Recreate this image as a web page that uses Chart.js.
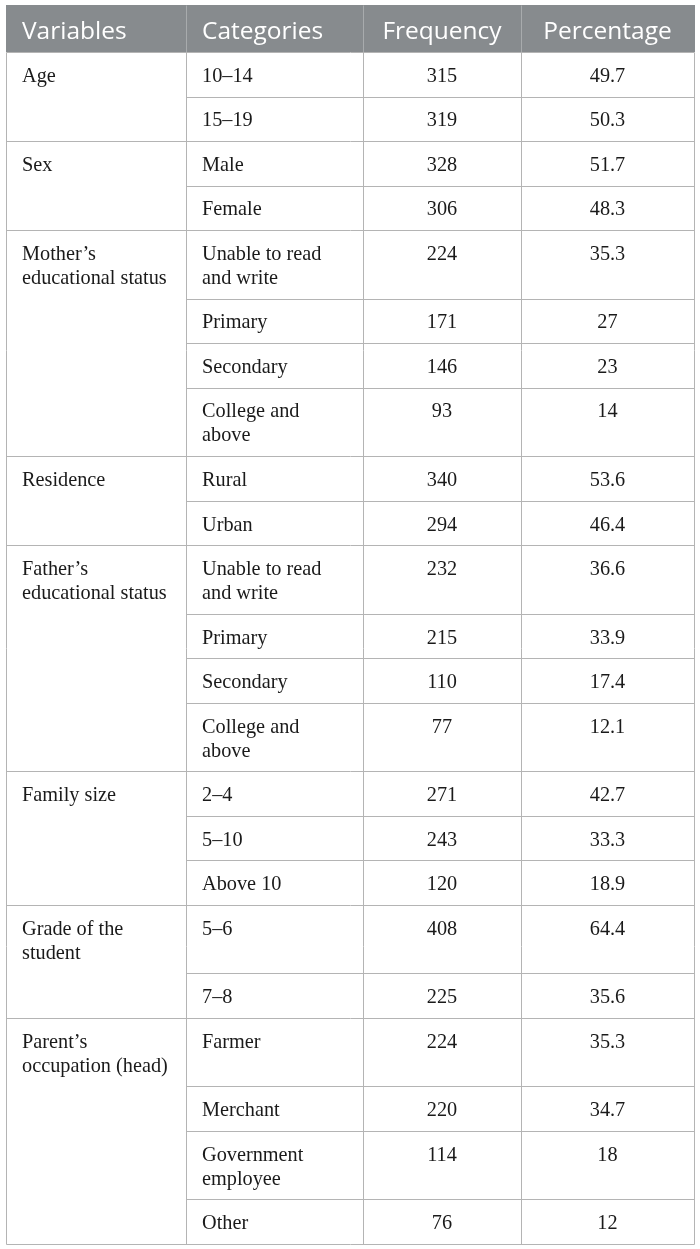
<!DOCTYPE html>
<html>
<head>
<meta charset="utf-8">
<script src="https://cdn.jsdelivr.net/npm/chart.js@4.4.1/dist/chart.umd.min.js"></script>
<style>
  html, body { margin: 0; padding: 0; background: #fff; }
  #wrap { width: 700px; height: 1249px; position: relative; }
</style>
</head>
<body>
<div id="wrap"><canvas id="tbl"></canvas></div>
<script>
// table data
var headers = ["Variables", "Categories", "Frequency", "Percentage"];

var variables = [
	["Age"], ["Sex"], ["Mother\u2019s", "educational status"], ["Residence"],
	["Father\u2019s", "educational status"], ["Family size"],
	["Grade of the", "student"], ["Parent\u2019s", "occupation (head)"]
];
var groupSizes = [2, 2, 4, 2, 4, 3, 2, 4];

var categories = [
	["10\u201314"], ["15\u201319"],
	["Male"], ["Female"],
	["Unable to read", "and write"], ["Primary"], ["Secondary"], ["College and", "above"],
	["Rural"], ["Urban"],
	["Unable to read", "and write"], ["Primary"], ["Secondary"], ["College and", "above"],
	["2\u20134"], ["5\u201310"], ["Above 10"],
	["5\u20136"], ["7\u20138"],
	["Farmer"], ["Merchant"], ["Government", "employee"], ["Other"]
];
var frequency = [315, 319, 328, 306, 224, 171, 146, 93, 340, 294, 232, 215, 110, 77, 271, 243, 120, 408, 225, 224, 220, 114, 76];
var percentage = [49.7, 50.3, 51.7, 48.3, 35.3, 27, 23, 14, 53.6, 46.4, 36.6, 33.9, 17.4, 12.1, 42.7, 33.3, 18.9, 64.4, 35.6, 35.3, 34.7, 18, 12];

// layout
var colEdges = [0, 180, 357, 515, 688];
var HEADER_H = 47, ROW_PAD = 20.5, LINE_H = 24, FIRST_LINE = 24.5, TEXT_INSET = 16;
var HEADER_BG = "#878b8e", HEADER_RULE = "#a8abad", RULE = "#b4b4b4";
var BODY_FONT = "20.3px 'Liberation Serif', 'Times New Roman', serif";
var HEAD_FONT = "24.5px 'Open Sans', 'Noto Sans', sans-serif";

// build rows from the arrays
var rows = [];
var rowCursor = HEADER_H, idx = 0;
groupSizes.forEach(function(size, g){
	for (var k = 0; k < size; k++) {
		var lines = categories[idx].length;
		if (k === 0) lines = Math.max(lines, variables[g].length);
		var h = ROW_PAD + LINE_H * lines;
		rows.push({ rtop: rowCursor, rbottom: rowCursor + h, group: g, first: k === 0, i: idx });
		rowCursor += h;
		idx++;
	}
});
var totalH = rowCursor;

function colLeft(c){ return colEdges[c] + TEXT_INSET; }
function colMid(c){ return (colEdges[c] + colEdges[c + 1]) / 2; }

var varPoints = [], catPoints = [], freqPoints = [], pctPoints = [];
rows.forEach(function(r){
	var yy = r.rtop + FIRST_LINE;
	if (r.first) varPoints.push({ x: colLeft(0), y: yy, text: variables[r.group] });
	catPoints.push({ x: colLeft(1), y: yy, text: categories[r.i] });
	freqPoints.push({ x: colMid(2), y: yy, text: [String(frequency[r.i])] });
	pctPoints.push({ x: colMid(3), y: yy, text: [String(percentage[r.i])] });
});
var headPoints = headers.map(function(h, c){
	return { x: c < 2 ? colLeft(c) : colMid(c), y: HEADER_H / 2 + 3.5, text: [h] };
});

var tablePlugin = {
	id : "tableGrid",

	beforeDatasetsDraw : function(chart){
		var ctx = chart.ctx, x = chart.scales.x, y = chart.scales.y;
		var X = function(v){ return Math.round(x.getPixelForValue(v)) + 0.5; };
		var Y = function(v){ return Math.round(y.getPixelForValue(v)) + 0.5; };

		ctx.save();
		ctx.fillStyle = HEADER_BG;
		ctx.fillRect(X(0) - 0.5, Y(0) - 0.5, X(688) - X(0) + 1, Y(HEADER_H) - Y(0));

		ctx.lineWidth = 1;
		ctx.strokeStyle = HEADER_RULE;
		ctx.beginPath();
		for (var c = 1; c < colEdges.length - 1; c++) {
			ctx.moveTo(X(colEdges[c]), Y(0));
			ctx.lineTo(X(colEdges[c]), Y(HEADER_H));
		}
		ctx.stroke();

		ctx.strokeStyle = RULE;
		ctx.beginPath();
		colEdges.forEach(function(e){
			ctx.moveTo(X(e), Y(HEADER_H));
			ctx.lineTo(X(e), Y(totalH));
		});
		ctx.moveTo(X(0), Y(HEADER_H));
		ctx.lineTo(X(688), Y(HEADER_H));
		rows.forEach(function(r, n){
			var next = rows[n + 1];
			var full = !next || next.first;
			ctx.moveTo(X(full ? 0 : colEdges[1]), Y(r.rbottom));
			ctx.lineTo(X(688), Y(r.rbottom));
		});
		ctx.stroke();
		ctx.restore();
	},

	afterDatasetsDraw : function(chart){
		var ctx = chart.ctx, y = chart.scales.y;
		var step = y.getPixelForValue(LINE_H) - y.getPixelForValue(0);
		ctx.save();
		ctx.textBaseline = "middle";
		chart.data.datasets.forEach(function(ds, i){
			var meta = chart.getDatasetMeta(i);
			ctx.font = ds.font;
			ctx.fillStyle = ds.textColor;
			ctx.textAlign = ds.align;
			meta.data.forEach(function(el, j){
				var lines = ds.data[j].text;
				lines.forEach(function(t, k){
					ctx.fillText(t, el.x, el.y + step * k);
				});
			});
		});
		ctx.restore();
	}
};

function textSet(label, pts, align, font, color){
	return { label: label, data: pts, align: align, font: font, textColor: color, pointRadius: 0, pointHoverRadius: 0 };
}

new Chart(document.getElementById("tbl"), {
	type : "scatter",
	data : {
		datasets : [
			textSet("header", headPoints.slice(0, 2), "left", HEAD_FONT, "#ffffff"),
			textSet("header2", headPoints.slice(2), "center", HEAD_FONT, "#ffffff"),
			textSet(headers[0], varPoints, "left", BODY_FONT, "#1a1a1a"),
			textSet(headers[1], catPoints, "left", BODY_FONT, "#1a1a1a"),
			textSet(headers[2], freqPoints, "center", BODY_FONT, "#1a1a1a"),
			textSet(headers[3], pctPoints, "center", BODY_FONT, "#1a1a1a")
		]
	},
	options : {
		responsive : true,
		maintainAspectRatio : false,
		animation : false,
		events : [],
		layout : { padding : { left : 6, right : 6, top : 5, bottom : 5 } },
		plugins : { legend : { display : false }, tooltip : { enabled : false } },
		scales : {
			x : { type : "linear", min : 0, max : 688, display : false },
			y : { type : "linear", min : 0, max : totalH, reverse : true, display : false }
		}
	},
	plugins : [tablePlugin]
});
</script>
</body>
</html>
